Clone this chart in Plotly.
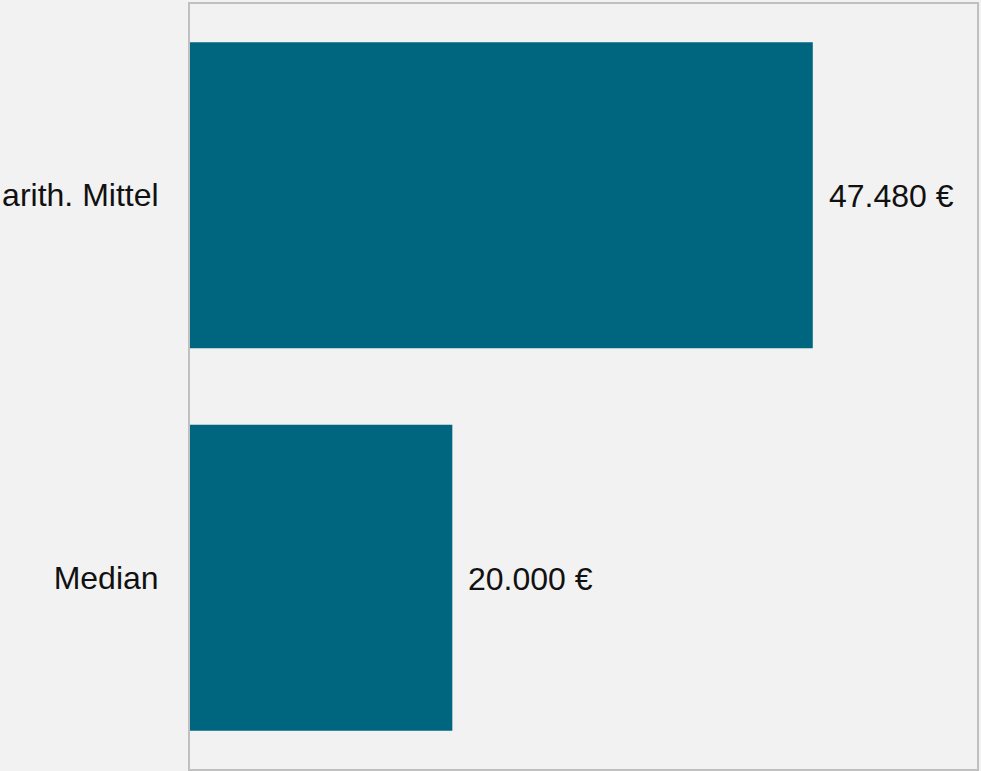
import plotly.graph_objects as go

categories = ["arith. Mittel", "Median"]
values = [47480, 20000]
value_labels = ["47.480 €", "20.000 €"]

fig = go.Figure()
fig.add_trace(go.Bar(
    y=categories, x=values, orientation="h",
    marker=dict(color="#006680", line=dict(width=0)),
    hoverinfo="skip",
))
for c, v, t in zip(categories, values, value_labels):
    fig.add_annotation(x=v, y=c, text=t, showarrow=False, xanchor="left",
                       xshift=14, yshift=-1, font=dict(size=32, color="#111111"))

fig.update_layout(
    width=981, height=771,
    margin=dict(l=187, r=3, t=2, b=2),
    paper_bgcolor="#f2f2f2", plot_bgcolor="#f2f2f2",
    font=dict(family="Liberation Sans, Arial, sans-serif", size=32, color="#111111"),
    bargap=0.2, showlegend=False,
)
fig.update_xaxes(range=[0, 60000], showgrid=False, zeroline=False, showticklabels=False,
                 showline=True, linecolor="#c0c0c0", linewidth=2, mirror=True)
fig.update_yaxes(autorange="reversed", showgrid=False, zeroline=False,
                 showline=True, linecolor="#c0c0c0", linewidth=2, mirror=True,
                 ticks="", ticklabelstandoff=23, tickfont=dict(size=32, color="#111111"))

fig.write_html("out.html", config={"displayModeBar": False},
               post_script="document.body.style.margin='0';document.body.style.overflow='hidden';")
